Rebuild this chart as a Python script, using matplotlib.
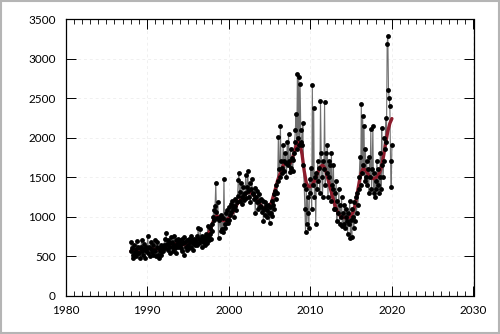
import matplotlib
matplotlib.use('Agg')
import matplotlib.pyplot as plt
from matplotlib.ticker import MultipleLocator
import numpy as np

# monthly observations, Jan 1988 .. Jan 2020
monthly = [
    560, 680, 600, 520, 470, 640, 550, 590, 500, 690, 540, 610,        # 1988
    540, 600, 480, 620, 700, 560, 510, 650, 590, 480, 560, 620,        # 1989
    600, 760, 540, 620, 500, 680, 590, 550, 640, 520, 580, 700,        # 1990
    560, 500, 620, 680, 520, 480, 600, 560, 640, 510, 570, 600,        # 1991
    560, 640, 720, 600, 790, 650, 580, 700, 620, 540, 660, 740,        # 1992
    620, 680, 560, 760, 640, 600, 700, 540, 650, 720, 610, 680,        # 1993
    640, 700, 600, 720, 560, 660, 740, 520, 680, 620, 580, 700,        # 1994
    640, 720, 600, 680, 760, 620, 700, 580, 660, 720, 640, 700,        # 1995
    680, 760, 640, 860, 720, 660, 840, 700, 620, 760, 680, 740,        # 1996
    700, 640, 780, 720, 660, 880, 740, 700, 860, 780, 720, 820,        # 1997
    900, 1000, 1080, 960, 1140, 1420, 1060, 980, 1180, 730, 960, 1000,  # 1998
    820, 1020, 840, 980, 800, 1480, 900, 860, 1040, 960, 1080, 920,     # 1999
    960, 1120, 1020, 1160, 1060, 1200, 1090, 1140, 1000, 1220, 1140, 1080,  # 2000
    1180, 1260, 1460, 1550, 1200, 1310, 1420, 1160, 1250, 1380, 1210, 1290,  # 2001
    1300, 1520, 1240, 1380, 1580, 1320, 1250, 1420, 1180, 1350, 1470, 1290,  # 2002
    1300, 1220, 1360, 1040, 1250, 1180, 1320, 1100, 1200, 1280, 1140, 1220,  # 2003
    1120, 1060, 1200, 950, 1100, 1180, 1020, 1140, 990, 1080, 1150, 1040,    # 2004
    920, 1120, 1050, 1200, 1010, 1150, 1280, 1100, 1330, 1220, 1400, 1300,   # 2005
    1450, 2010, 1600, 1500, 2150, 1700, 1550, 1620, 1900, 1700, 1580, 1800,  # 2006
    1680, 1500, 1950, 1650, 2050, 1700, 1560, 1850, 1620, 1740, 1580, 1720,  # 2007
    1800, 1950, 2100, 2300, 1850, 2810, 2000, 2770, 1900, 2680, 2100, 1950,  # 2008
    1900, 2180, 1650, 1400, 1100, 800, 1350, 900, 1250, 1050, 850, 1480,    # 2009
    1300, 1620, 1100, 2670, 1400, 2380, 1250, 1500, 900, 1550, 1350, 1700,  # 2010
    1450, 1620, 1300, 2460, 1800, 1500, 1250, 1700, 1600, 2450, 1400, 1800,  # 2011
    1550, 1900, 1250, 1700, 1500, 1650, 1200, 1800, 1400, 1350, 1650, 1100,  # 2012
    1300, 1100, 1450, 950, 1200, 1050, 1350, 900, 1150, 1000, 1250, 880,    # 2013
    1050, 900, 1150, 850, 1000, 1100, 950, 780, 1050, 900, 1200, 730,       # 2014
    960, 740, 1100, 1000, 850, 1180, 950, 1250, 1050, 1300, 1150, 1350,     # 2015
    1500, 1750, 1400, 2420, 1550, 2270, 1650, 2150, 1450, 1850, 1500, 1700,  # 2016
    1400, 1600, 1300, 1750, 1500, 2110, 1350, 1600, 2140, 1300, 1550, 1250,  # 2017
    1450, 1350, 1700, 1400, 1600, 1300, 1500, 1800, 1350, 2120, 1650, 1500,  # 2018
    1700, 2000, 1850, 2250, 1950, 3180, 3290, 2600, 2500, 2400, 1700, 1370,  # 2019
    1900,                                                                    # 2020
]

# smoothed trend, quarterly, 1988.0 .. 2020.0
trend = [
    560, 570, 575, 580,     580, 580, 580, 585,     590, 595, 595, 590,
    585, 580, 585, 595,     610, 625, 640, 650,     655, 655, 655, 655,
    650, 645, 645, 650,     655, 665, 675, 685,     700, 710, 715, 720,
    725, 740, 780, 840,     910, 980, 1010, 1000,   970, 950, 950, 960,
    980, 1010, 1050, 1100,  1150, 1190, 1220, 1250, 1280, 1300, 1310, 1300,
    1280, 1250, 1210, 1170, 1130, 1110, 1100, 1110, 1140, 1180, 1270, 1360,
    1460, 1530, 1600, 1660, 1680, 1660, 1670, 1720, 1800, 1890, 1950, 1920,
    1780, 1580, 1430, 1380, 1380, 1400, 1450, 1520, 1580, 1630, 1650, 1620,
    1540, 1440, 1340, 1240, 1150, 1080, 1030, 1000, 990, 985, 980, 990,
    1010, 1060, 1150, 1290, 1440, 1560, 1610, 1590, 1550, 1510, 1490, 1480,
    1490, 1510, 1560, 1640, 1780, 1940, 2080, 2180, 2240,
]

t_month = 1988 + np.arange(len(monthly)) / 12.0
t_trend = 1988 + np.arange(len(trend)) / 4.0

plt.rcParams['font.family'] = ['Lato', 'DejaVu Sans']

fig = plt.figure(figsize=(5.0, 3.34), dpi=100, facecolor='white')
fig.patches.append(plt.Rectangle((0.002, 0.003), 0.995, 0.994, transform=fig.transFigure,
                                 fill=False, edgecolor='#b5b5b5', linewidth=1.5))
ax = fig.add_axes([0.131, 0.115, 0.816, 0.828])

ax.plot(t_month, monthly, color='#707070', linewidth=0.8, zorder=2)
ax.plot(t_trend, trend, color='#8c1c2c', linewidth=2.4, solid_capstyle='round',
        solid_joinstyle='round', zorder=3)
ax.plot(t_month, monthly, linestyle='none', marker='o', markersize=3.5,
        markeredgewidth=0, color='black', zorder=4)

ax.set_xlim(1980, 2030)
ax.set_ylim(0, 3500)
ax.xaxis.set_major_locator(MultipleLocator(10))
ax.xaxis.set_minor_locator(MultipleLocator(1))
ax.yaxis.set_major_locator(MultipleLocator(500))

ax.grid(which='major', color='#f0f0f0', linestyle=(0, (3, 3)), linewidth=0.7, zorder=0)
ax.tick_params(which='major', direction='in', length=7, width=0.7, top=True, right=True,
               labelsize=8.5, colors='black', pad=7)
ax.tick_params(which='minor', direction='in', length=3.5, width=0.6, top=True, right=False)
ax.tick_params(axis='y', which='minor', left=False, right=False)
for s in ax.spines.values():
    s.set_linewidth(0.9)
    s.set_color('black')

fig.savefig('out.png', dpi=100, facecolor='white')
